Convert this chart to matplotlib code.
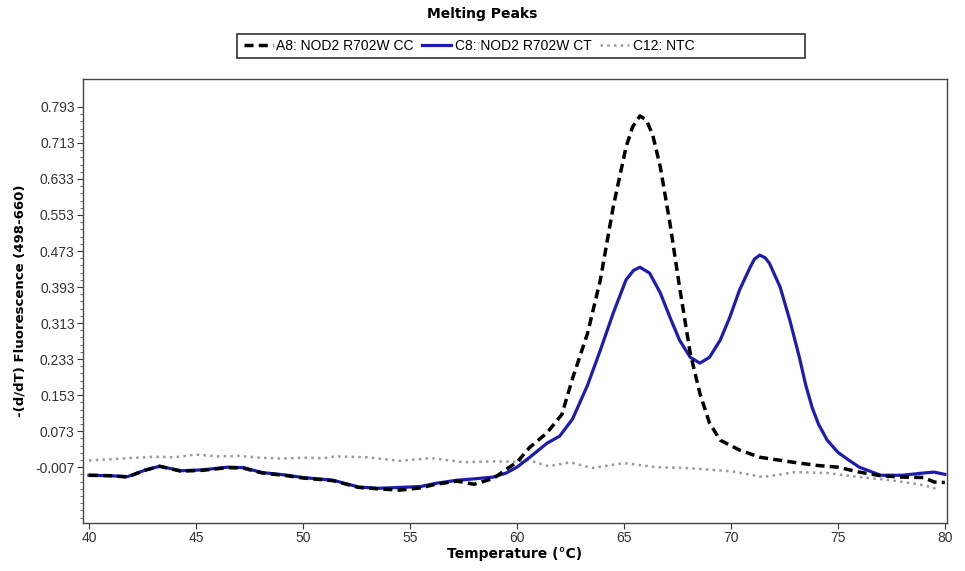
import matplotlib
matplotlib.use("Agg")
import matplotlib.pyplot as plt
import numpy as np
from matplotlib.ticker import FixedLocator
from matplotlib.patches import Rectangle

plt.rcParams['font.family'] = ['Liberation Sans', 'DejaVu Sans']

title = "Melting Peaks"
xlabel = "Temperature (°C)"
ylabel = "-(d/dT) Fluorescence (498-660)"
series_names = ["A8: NOD2 R702W CC", "C8: NOD2 R702W CT", "C12: NTC"]

# A8 (CC) - black dashed
t_cc = [40, 41, 41.8, 42.6, 43.3, 44.3, 45.3, 46.5, 47.2, 48.1, 49.1, 50, 51.4, 52.6,
        53.5, 54.5, 55.5, 56.2, 57.2, 58, 58.9, 59.5, 60, 60.6, 61.4, 62.1, 62.6, 63.3,
        63.9, 64.5, 65.1, 65.4, 65.75, 66.05, 66.35, 66.7, 67.15, 67.6, 68.1, 68.55,
        69.0, 69.5, 70.4, 71.35, 72.9, 74, 75, 76, 77, 78, 79, 79.5, 80]
v_cc = [-0.025, -0.026, -0.029, -0.014, -0.005, -0.016, -0.014, -0.008, -0.009, -0.020,
        -0.025, -0.031, -0.037, -0.052, -0.055, -0.058, -0.053, -0.045, -0.038, -0.045,
        -0.032, -0.012, 0.004, 0.037, 0.069, 0.110, 0.190, 0.290, 0.409, 0.571, 0.704,
        0.748, 0.773, 0.764, 0.730, 0.660, 0.535, 0.393, 0.246, 0.157, 0.091, 0.053,
        0.031, 0.015, 0.004, -0.003, -0.007, -0.018, -0.026, -0.029, -0.030, -0.040,
        -0.041]

# C8 (CT) - blue solid
t_ct = [40, 41, 41.8, 42.6, 43.3, 44.3, 45.3, 46.5, 47.2, 48.1, 49.1, 50, 51.4, 52.6,
        53.5, 54.5, 55.5, 56.2, 57.2, 58, 58.9, 59.5, 60, 60.6, 61.4, 62.0, 62.6, 63.3,
        63.9, 64.5, 65.1, 65.45, 65.75, 66.2, 66.7, 67.15, 67.6, 68.1, 68.55, 69, 69.5,
        69.95, 70.4, 70.9, 71.1, 71.35, 71.6, 71.8, 72.3, 72.75, 73.2, 73.5, 73.8, 74.1,
        74.5, 75, 75.5, 76, 77, 78, 79, 79.5, 80]
v_ct = [-0.025, -0.026, -0.028, -0.014, -0.005, -0.015, -0.013, -0.007, -0.008, -0.019,
        -0.024, -0.030, -0.036, -0.051, -0.054, -0.052, -0.050, -0.043, -0.036, -0.033,
        -0.029, -0.020, -0.007, 0.015, 0.046, 0.062, 0.100, 0.175, 0.253, 0.335, 0.409,
        0.430, 0.437, 0.424, 0.380, 0.326, 0.275, 0.237, 0.224, 0.237, 0.275, 0.326,
        0.386, 0.437, 0.455, 0.464, 0.458, 0.446, 0.393, 0.320, 0.237, 0.175, 0.125,
        0.088, 0.053, 0.026, 0.009, -0.007, -0.025, -0.025, -0.020, -0.018, -0.023]

# C12 (NTC) - gray dotted
t_ntc = [40, 41.5, 43, 44, 45, 46, 47, 48, 49, 50, 51, 51.5, 53, 54.5, 56, 57.5, 59, 60,
         60.5, 61.5, 62.5, 63.5, 65, 66.5, 68, 70, 71.5, 73, 74.5, 76, 77.5, 79, 79.7]
v_ntc = [0.008, 0.012, 0.016, 0.015, 0.021, 0.017, 0.018, 0.014, 0.012, 0.014, 0.013,
         0.017, 0.015, 0.007, 0.013, 0.004, 0.006, 0.005, 0.009, -0.005, 0.004, -0.009,
         0.002, -0.007, -0.009, -0.016, -0.029, -0.018, -0.020, -0.029, -0.036, -0.047,
         -0.056]

xticks = [40, 45, 50, 55, 60, 65, 70, 75, 80]
yticks = [-0.007, 0.073, 0.153, 0.233, 0.313, 0.393, 0.473, 0.553, 0.633, 0.713, 0.793]

W, H = 965, 571
fig = plt.figure(figsize=(W / 100, H / 100), dpi=100)
ax = fig.add_axes([83 / W, 1 - 523 / H, (947 - 83) / W, (523 - 79) / H])

ax.plot(t_cc, v_cc, color='black', lw=2.5, ls=(0, (2.6, 1.5)), label=series_names[0], zorder=3)
ax.plot(t_ct, v_ct, color='#1c1cb0', lw=2.3, ls='-', label=series_names[1], zorder=2)
ax.plot(t_ntc, v_ntc, color='#9a9a9a', lw=1.8, ls=(0, (1, 1.7)), label=series_names[2], zorder=1)

ax.set_xlim(39.72, 80.1)
ax.set_ylim(-0.131, 0.855)
ax.xaxis.set_major_locator(FixedLocator(xticks))
ax.set_xticklabels([str(x) for x in xticks])
ax.yaxis.set_major_locator(FixedLocator(yticks))
ax.set_yticklabels(["%.3f" % y for y in yticks])
ax.yaxis.set_minor_locator(FixedLocator([-0.007 + 0.016 * k for k in range(-7, 51)]))
ax.tick_params(axis='both', which='major', direction='out', length=4, width=0.8,
               labelsize=10, colors='#333333', labelcolor='#333333', pad=2)
ax.tick_params(axis='y', which='minor', direction='out', length=2, width=0.6, colors='#555555')
for s in ax.spines.values():
    s.set_color('#444444')
    s.set_linewidth(1.0)

ax.set_xlabel(xlabel, fontsize=10, fontweight='bold', family='DejaVu Sans', labelpad=1)
ax.set_ylabel(ylabel, fontsize=9.5, fontweight='bold', family='DejaVu Sans', labelpad=6)
fig.text(0.5, 1 - 14 / H, title, ha='center', va='center', fontsize=10,
         fontweight='bold', family='DejaVu Sans')

# legend box (fixed width, entries left aligned)
fig.patches.append(Rectangle((237 / W, 1 - 58 / H), (805 - 237) / W, 24 / H,
                             transform=fig.transFigure, fill=False, edgecolor='#333333',
                             linewidth=1.2))
leg = fig.legend(loc='center left', bbox_to_anchor=(241 / W, 1 - 46 / H), ncol=3,
                 fontsize=10, frameon=False, handlelength=2.1, handletextpad=0.25,
                 columnspacing=0.6, borderpad=0.2, borderaxespad=0)

fig.savefig("out.png", dpi=100, facecolor='white')
